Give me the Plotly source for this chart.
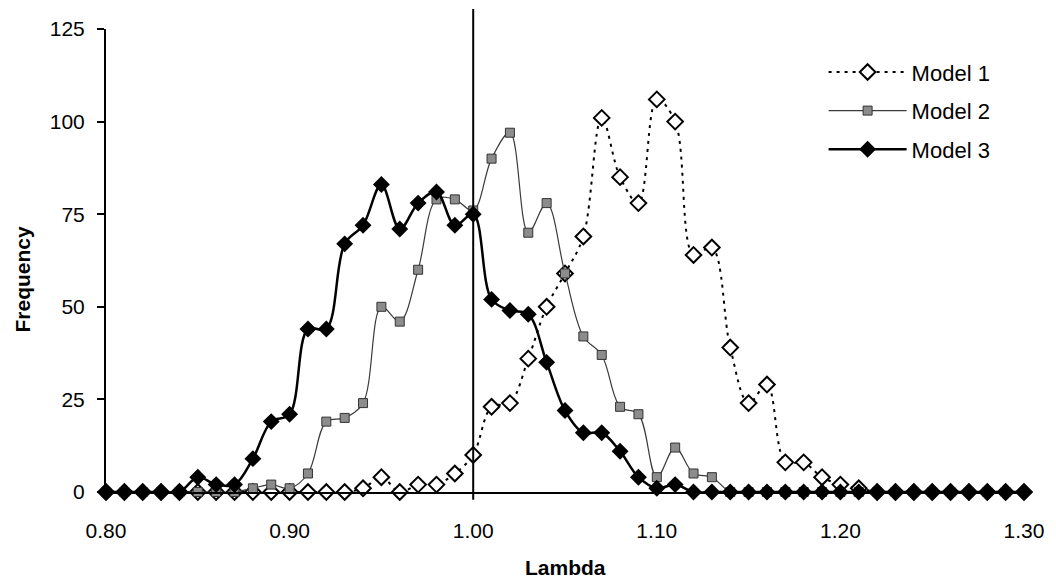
import plotly.graph_objects as go

lam = [round(0.80 + 0.01 * i, 2) for i in range(51)]

model1 = [0] * 14 + [1, 4, 0, 2, 2, 5, 10, 23, 24, 36, 50, 59, 69, 101, 85, 78,
                     106, 100, 64, 66, 39, 24, 29, 8, 8, 4, 2, 1] + [0] * 9
model2 = [0] * 8 + [1, 2, 1, 5, 19, 20, 24, 50, 46, 60, 79, 79, 76, 90, 97, 70,
                    78, 59, 42, 37, 23, 21, 4, 12, 5, 4] + [0] * 17
model3 = [0] * 5 + [4, 2, 2, 9, 19, 21, 44, 44, 67, 72, 83, 71, 78, 81, 72, 75,
                    52, 49, 48, 35, 22, 16, 16, 11, 4, 1, 2] + [0] * 19

y_ticks = [0, 25, 50, 75, 100, 125]
x_ticks = [0.80, 0.90, 1.00, 1.10, 1.20, 1.30]

FONT = "Liberation Sans, Arial, sans-serif"

fig = go.Figure()
fig.add_trace(go.Scatter(
    x=lam, y=model1, name="Model 1", mode="lines+markers", legendgroup="g1",
    line=dict(color="black", width=2, dash="3px,5px", shape="spline", smoothing=1),
    marker=dict(symbol="diamond", size=12, color="white", line=dict(color="black", width=2)),
    cliponaxis=False,
))
fig.add_trace(go.Scatter(
    x=lam, y=model2, name="Model 2", mode="lines+markers", legendgroup="g2",
    line=dict(color="#3a3a3a", width=1.2, shape="spline", smoothing=1),
    marker=dict(symbol="square", size=9, color="#8c8c8c", line=dict(color="#333333", width=1)),
    cliponaxis=False,
))
fig.add_trace(go.Scatter(
    x=lam, y=model3, name="Model 3", mode="lines+markers", legendgroup="g3",
    line=dict(color="black", width=2.5, shape="spline", smoothing=1),
    marker=dict(symbol="diamond", size=13, color="black", line=dict(color="black", width=0)),
    cliponaxis=False,
))

fig.add_shape(type="line", xref="x", yref="paper", x0=1.0, x1=1.0, y0=-0.017, y1=1.043,
              line=dict(color="black", width=2), layer="above")

fig.add_annotation(text="<b>Lambda</b>", xref="paper", yref="paper", x=0.5, y=-0.162,
                   showarrow=False, font=dict(size=21, color="black", family=FONT),
                   xanchor="center", yanchor="middle")
fig.add_annotation(text="<b>Frequency</b>", xref="paper", yref="paper", x=-0.091, y=0.46,
                   showarrow=False, font=dict(size=21, color="black", family=FONT),
                   textangle=-90, xanchor="center", yanchor="middle")

fig.update_layout(
    width=1056, height=585,
    margin=dict(l=106, r=29, t=29, b=93),
    paper_bgcolor="white", plot_bgcolor="white",
    font=dict(family=FONT, size=21, color="black"),
    showlegend=True,
    legend=dict(x=0.7817, y=0.952, xanchor="left", yanchor="top", bgcolor="rgba(0,0,0,0)",
                itemwidth=78, font=dict(size=22), tracegroupgap=7),
    xaxis=dict(range=[0.80, 1.30], tickvals=x_ticks, ticktext=[f"{v:.2f}" for v in x_ticks],
               showgrid=False, zeroline=False, showline=True, linecolor="black", linewidth=2,
               ticks="", ticklabelstandoff=19),
    yaxis=dict(range=[0, 125], tickvals=y_ticks, showgrid=False, zeroline=False,
               showline=True, linecolor="black", linewidth=2, ticks="outside", ticklen=7,
               tickwidth=1.5, tickcolor="black", ticklabelstandoff=8),
)

fig.write_html("out.html")
